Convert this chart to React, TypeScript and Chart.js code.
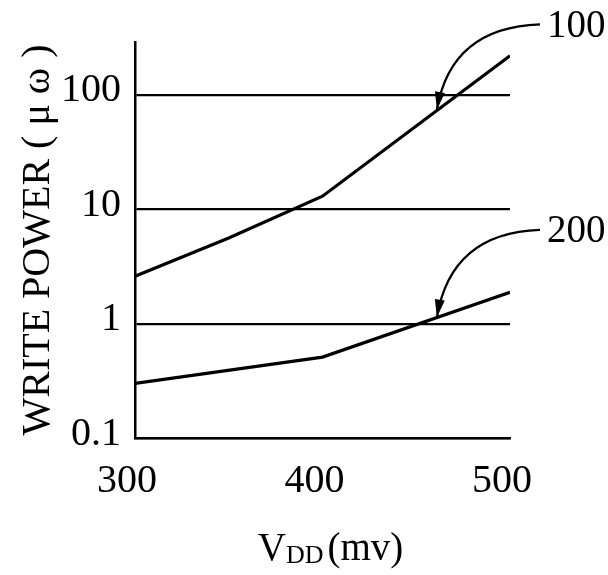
import { useEffect, useRef } from "react";
import { Chart, registerables } from "chart.js";

Chart.register(...registerables);

// ---- data ----
const vdd100 = [300, 350, 400, 500];
const power100 = [2.6, 5.6, 13, 220];
const vdd200 = [300, 400, 500];
const power200 = [0.3, 0.51, 1.88];

const xTickValues = [300, 400, 500];
const xTickLabels = ["300", "400", "500"];
const yTickValues = [0.1, 1, 10, 100];
const yTickLabels = ["0.1", "1", "10", "100"];

const calloutLabels = ["100", "200"];
const calloutTipX = [461, 461];
const calloutTipY = [74, 1.13];
const calloutStartX = [516, 516];
const calloutStartY = [414, 6.6];

const yTitle = "WRITE POWER ( μ ω )";
const xTitleMain = "V";
const xTitleSub = "DD";
const xTitleUnit = "(mv)";

const FONT = "'Liberation Serif', 'Times New Roman', serif";

const overlayPlugin = {
  id: "overlay",
  afterDraw(chart: any) {
    const { ctx, scales, chartArea } = chart;
    const xs = scales.x;
    const ys = scales.y;
    ctx.save();
    ctx.strokeStyle = "#000";
    ctx.fillStyle = "#000";
    for (let i = 0; i < calloutLabels.length; i++) {
      const tx = xs.getPixelForValue(calloutTipX[i]);
      const ty = ys.getPixelForValue(calloutTipY[i]);
      const sx = xs.getPixelForValue(calloutStartX[i]);
      const sy = ys.getPixelForValue(calloutStartY[i]);
      const cx = tx + 14;
      const cy = sy + 3;
      ctx.lineWidth = 2.2;
      ctx.beginPath();
      ctx.moveTo(sx, sy);
      ctx.quadraticCurveTo(cx, cy, tx, ty);
      ctx.stroke();
      const ang = Math.atan2(ty - cy, tx - cx);
      const L = 18;
      const W = 5;
      const bx = tx - L * Math.cos(ang);
      const by = ty - L * Math.sin(ang);
      ctx.beginPath();
      ctx.moveTo(tx, ty);
      ctx.lineTo(bx + W * Math.sin(ang), by - W * Math.cos(ang));
      ctx.lineTo(bx - W * Math.sin(ang), by + W * Math.cos(ang));
      ctx.closePath();
      ctx.fill();
      ctx.font = `39px ${FONT}`;
      ctx.textAlign = "left";
      ctx.textBaseline = "middle";
      ctx.fillText(calloutLabels[i], sx + 7, sy + 2);
    }
    // x axis title with subscript
    const big = `39px ${FONT}`;
    const small = `26px ${FONT}`;
    ctx.textBaseline = "alphabetic";
    ctx.textAlign = "left";
    ctx.font = big;
    const wV = ctx.measureText(xTitleMain).width;
    const wU = ctx.measureText(xTitleUnit).width;
    ctx.font = small;
    const wS = ctx.measureText(xTitleSub).width;
    const gap = 4;
    const total = wV + wS + gap + wU;
    const center = (chartArea.left + chartArea.right) / 2 + 8;
    const base = chart.height - 15;
    let px = center - total / 2;
    ctx.font = big;
    ctx.fillText(xTitleMain, px, base);
    px += wV;
    ctx.font = small;
    ctx.fillText(xTitleSub, px, base + 3);
    px += wS + gap;
    ctx.font = big;
    ctx.fillText(xTitleUnit, px, base);
    ctx.restore();
  },
};

export default function App() {
  const ref = useRef<HTMLCanvasElement | null>(null);
  useEffect(() => {
    if (!ref.current) return;
    const chart = new Chart(ref.current, {
      type: "line",
      data: {
        datasets: [
          {
            label: "100",
            data: vdd100.map((v, i) => ({ x: v, y: power100[i] })),
            borderColor: "#000",
            borderWidth: 3.2,
            pointRadius: 0,
            tension: 0,
          },
          {
            label: "200",
            data: vdd200.map((v, i) => ({ x: v, y: power200[i] })),
            borderColor: "#000",
            borderWidth: 3.2,
            pointRadius: 0,
            tension: 0,
          },
        ],
      },
      options: {
        responsive: false,
        animation: false,
        layout: { padding: { top: 42, right: 98, left: 0, bottom: 0 } },
        plugins: { legend: { display: false }, tooltip: { enabled: false } },
        scales: {
          x: {
            type: "linear",
            min: 300,
            max: 500,
            afterBuildTicks: (s: any) => {
              s.ticks = xTickValues.map((v) => ({ value: v }));
            },
            afterFit: (s: any) => {
              s.height = 137;
            },
            ticks: {
              autoSkip: false,
              maxRotation: 0,
              color: "#000",
              font: { family: FONT, size: 40 },
              padding: 19,
              labelOffset: -8,
              callback: (_v: any, i: number) => xTickLabels[i],
            },
            grid: { display: false, drawTicks: false },
            border: { display: true, color: "#000", width: 2.5 },
          },
          y: {
            type: "logarithmic",
            min: 0.1,
            max: 290,
            afterBuildTicks: (s: any) => {
              s.ticks = yTickValues.map((v) => ({ value: v }));
            },
            afterFit: (s: any) => {
              s.width = 135;
            },
            ticks: {
              autoSkip: false,
              color: "#000",
              font: { family: FONT, size: 40 },
              padding: 14,
              labelOffset: -4,
              callback: (_v: any, i: number) => yTickLabels[i],
            },
            grid: { color: "#000", lineWidth: 2.2, drawTicks: false },
            border: { display: true, color: "#000", width: 2.5 },
            title: {
              display: true,
              text: yTitle,
              color: "#000",
              font: { family: FONT, size: 40 },
              padding: { top: 14, bottom: 0 },
            },
          },
        },
      },
      plugins: [overlayPlugin],
    });
    return () => chart.destroy();
  }, []);
  return (
    <div style={{ position: "fixed", left: 0, top: 0, width: 608, height: 575, background: "#fff" }}>
      <canvas ref={ref} width={608} height={575} style={{ display: "block" }} />
    </div>
  );
}
